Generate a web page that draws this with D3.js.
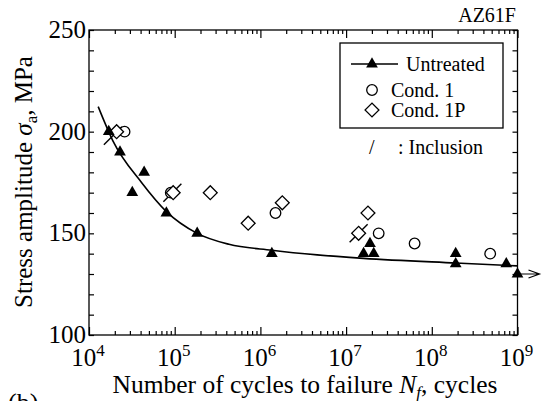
<!DOCTYPE html>
<html>
<head>
<meta charset="utf-8">
<script src="https://cdn.jsdelivr.net/npm/d3@7"></script>
<style>
  body { margin: 0; background: #fff; }
  svg text { font-family: "Liberation Serif", Tinos, "Times New Roman", Times, serif; fill: #000; }
</style>
</head>
<body>
<script>
// données (N en cycles, sigma en MPa)
const untreatedN = [1.7e4, 2.3e4, 3.2e4, 4.4e4, 8.0e4, 1.83e5, 1.36e6, 1.6e7, 1.9e7, 2.1e7, 1.9e8, 1.9e8, 7.4e8, 1e9];
const untreatedS = [200, 190, 170, 180, 160, 150, 140, 140, 145, 140, 140, 135, 135, 130];

const cond1N = [2.6e4, 9.0e4, 1.5e6, 2.4e7, 6.3e7, 4.8e8];
const cond1S = [200, 170, 160, 150, 145, 140];

const cond1pN = [2.1e4, 9.6e4, 2.6e5, 7.2e5, 1.8e6, 1.4e7, 1.8e7];
const cond1pS = [200, 170, 170, 155, 165, 150, 160];

// inclusions (traits obliques)
const inclN = [1.9e4, 9.4e4, 1.4e7];
const inclS = [198, 170, 150];

// courbe S-N (points lus le long de la courbe)
const curveN = [1.28e4, 1.9e4, 4.1e4, 8.0e4, 1.83e5, 4.3e5, 1.36e6, 4.6e6, 1.6e7, 1.9e8, 1e9];
const curveS = [212.3, 195.5, 175, 160.7, 150, 144.6, 141.7, 139.4, 137.7, 135.4, 134];

const xDecades = [4, 5, 6, 7, 8, 9];
const yTicks = [100, 150, 200, 250];

const W = 550, H = 401;
const FONT = "'Liberation Serif', Tinos, 'Times New Roman', Times, serif";
const svg = d3.select("body").append("svg").attr("width", W).attr("height", H)
    .attr("font-family", FONT);

const x = d3.scaleLog().domain([1e4, 1e9]).range([89, 517.5]);
const y = d3.scaleLinear().domain([100, 250]).range([335, 30]);

// ticks mineurs
let minorX = [];
for (let e = 4; e < 9; e++) for (let k = 2; k <= 9; k++) minorX.push(k * Math.pow(10, e));
const majorX = xDecades.map(e => Math.pow(10, e));
const minorY = d3.range(100, 251, 10);

svg.append("g").attr("transform", "translate(0,335)")
   .call(d3.axisBottom(x).tickValues(minorX).tickSize(-4).tickFormat(""));
svg.append("g").attr("transform", "translate(0,335)")
   .call(d3.axisBottom(x).tickValues(majorX).tickSize(-8).tickFormat(""));
svg.append("g").attr("transform", "translate(0,30)")
   .call(d3.axisTop(x).tickValues(minorX).tickSize(-4).tickFormat(""));
svg.append("g").attr("transform", "translate(0,30)")
   .call(d3.axisTop(x).tickValues(majorX).tickSize(-8).tickFormat(""));
svg.append("g").attr("transform", "translate(89,0)")
   .call(d3.axisLeft(y).tickValues(minorY).tickSize(-5).tickFormat(""));
svg.append("g").attr("transform", "translate(517.5,0)")
   .call(d3.axisRight(y).tickValues(minorY).tickSize(-5).tickFormat(""));
svg.selectAll(".domain").remove();
svg.selectAll(".tick line").attr("stroke", "#000").attr("stroke-width", 1.2);

svg.append("rect").attr("x", 89).attr("y", 30).attr("width", 428.5).attr("height", 305)
   .attr("fill", "none").attr("stroke", "#000").attr("stroke-width", 1.3);

// étiquettes des axes
const xl = svg.selectAll(".xl").data(xDecades).enter().append("text")
   .attr("x", d => x(Math.pow(10, d)) - 1)
   .attr("y", 366)
   .attr("text-anchor", "middle")
   .style("font-family", FONT)
   .style("font-size", "25px");
xl.append("tspan").text("10");
xl.append("tspan").attr("dy", -10).style("font-size", "17px").text(d => d);

svg.selectAll(".yl").data(yTicks).enter().append("text")
   .attr("x", 86).attr("y", d => y(d) + 8)
   .attr("text-anchor", "end")
   .style("font-family", FONT)
   .style("font-size", "25px")
   .text(d => d);

const xt = svg.append("text").attr("x", 305).attr("y", 393)
   .attr("text-anchor", "middle").style("font-family", FONT).style("font-size", "25.5px");
xt.append("tspan").text("Number of cycles to failure ");
xt.append("tspan").style("font-style", "italic").text("N");
xt.append("tspan").style("font-style", "italic").style("font-size", "17px").attr("dy", 5).text("f");
xt.append("tspan").attr("dy", -5).text(", cycles");

const yt = svg.append("text").attr("transform", "translate(32,182) rotate(-90)")
   .attr("text-anchor", "middle").style("font-family", FONT).style("font-size", "25px");
yt.append("tspan").text("Stress amplitude ");
yt.append("tspan").style("font-style", "italic").text("σ");
yt.append("tspan").style("font-size", "17px").attr("dy", 5).text("a");
yt.append("tspan").attr("dy", -5).text(", MPa");

svg.append("text").attr("x", 516).attr("y", 22).attr("text-anchor", "end")
   .style("font-family", FONT).style("font-size", "20px").text("AZ61F");
svg.append("text").attr("x", 8).attr("y", 411)
   .style("font-family", FONT).style("font-size", "26px").text("(b)");

// courbe
const curvePts = curveN.map((n, i) => [n, curveS[i]]);
svg.append("path").datum(curvePts)
   .attr("d", d3.line().x(d => x(d[0])).y(d => y(d[1])).curve(d3.curveMonotoneX))
   .attr("fill", "none").attr("stroke", "#000").attr("stroke-width", 1.6);

// flèche (non rompu)
const ax0 = x(1e9), ay = y(130);
svg.append("path")
   .attr("d", `M${ax0},${ay}H${ax0 + 22}M${ax0 + 11},${ay - 4}L${ax0 + 22},${ay}L${ax0 + 11},${ay + 4}`)
   .attr("fill", "none").attr("stroke", "#000").attr("stroke-width", 1.2);

// inclusions
svg.selectAll(".incl").data(inclN.map((n, i) => [n, inclS[i]])).enter().append("line")
   .attr("x1", d => x(d[0]) - 9).attr("y1", d => y(d[1]) + 9)
   .attr("x2", d => x(d[0]) + 9).attr("y2", d => y(d[1]) - 9)
   .attr("stroke", "#000").attr("stroke-width", 1.4);

const tri = d3.symbol().type(d3.symbolTriangle).size(60);
const circ = d3.symbol().type(d3.symbolCircle).size(88);
const sq = d3.symbol().type(d3.symbolSquare).size(96);

svg.selectAll(".c1").data(cond1N.map((n, i) => [n, cond1S[i]])).enter().append("path")
   .attr("d", circ).attr("transform", d => `translate(${x(d[0])},${y(d[1])})`)
   .attr("fill", "#fff").attr("stroke", "#000").attr("stroke-width", 1.3);

svg.selectAll(".c1p").data(cond1pN.map((n, i) => [n, cond1pS[i]])).enter().append("path")
   .attr("d", sq).attr("transform", d => `translate(${x(d[0])},${y(d[1])}) rotate(45)`)
   .attr("fill", "#fff").attr("stroke", "#000").attr("stroke-width", 1.3);

svg.selectAll(".ut").data(untreatedN.map((n, i) => [n, untreatedS[i]])).enter().append("path")
   .attr("d", tri).attr("transform", d => `translate(${x(d[0])},${y(d[1])})`)
   .attr("fill", "#000");

// légende
const lg = svg.append("g");
lg.append("rect").attr("x", 340).attr("y", 43).attr("width", 163).attr("height", 85)
  .attr("fill", "#fff").attr("stroke", "#000").attr("stroke-width", 1.3);
lg.append("line").attr("x1", 351).attr("x2", 398).attr("y1", 64).attr("y2", 64)
  .attr("stroke", "#000").attr("stroke-width", 1.6);
lg.append("path").attr("d", tri).attr("transform", "translate(372,64)").attr("fill", "#000");
lg.append("path").attr("d", circ).attr("transform", "translate(372,90)")
  .attr("fill", "#fff").attr("stroke", "#000").attr("stroke-width", 1.3);
lg.append("path").attr("d", sq).attr("transform", "translate(372,110) rotate(45)")
  .attr("fill", "#fff").attr("stroke", "#000").attr("stroke-width", 1.3);
const legFont = s => s.style("font-family", FONT).style("font-size", "20px");
lg.append("text").attr("x", 406).attr("y", 71).call(legFont).text("Untreated");
lg.append("text").attr("x", 391).attr("y", 97).call(legFont).text("Cond. 1");
lg.append("text").attr("x", 391).attr("y", 117).call(legFont).text("Cond. 1P");
svg.append("text").attr("x", 369).attr("y", 154).call(legFont).text("/");
svg.append("text").attr("x", 398).attr("y", 154).call(legFont).text(": Inclusion");
</script>
</body>
</html>
